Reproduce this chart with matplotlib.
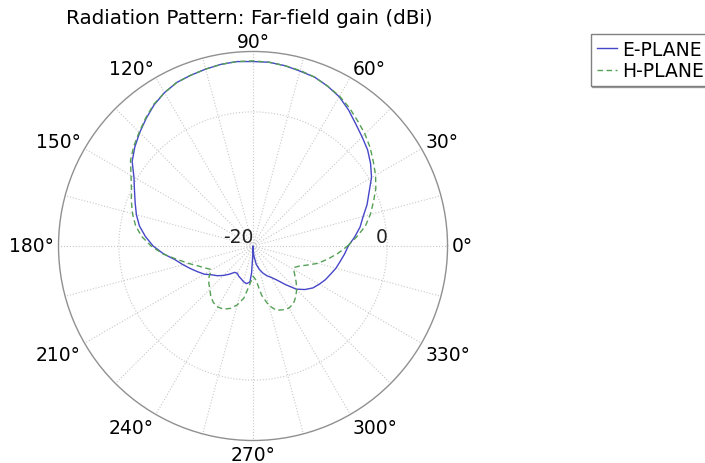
import numpy as np
import matplotlib
matplotlib.use("Agg")
import matplotlib.pyplot as plt

# ---- data (angles in degrees, gain in dBi) ----
e_angles = [0, 5, 10, 15, 20, 25, 30, 35, 40, 45, 50, 55, 60, 65, 70, 75, 80, 85, 90,
            95, 100, 105, 110, 115, 120, 125, 130, 135, 140, 145, 150, 155, 160, 165,
            170, 175, 180, 185, 190, 195, 200, 205, 210, 215, 220, 225, 230, 235, 240,
            245, 250, 255, 260, 265, 267, 269, 270, 272, 275, 280, 285, 290, 295, 300,
            305, 310, 315, 320, 325, 330, 335, 340, 345, 350, 355, 360]
e_gain = [-5.8, -4.8, -3.8, -3.0, -1.9, -0.9, 0.4, 1.4, 2.3, 3.0, 3.8, 4.8, 5.7, 6.3,
          6.8, 7.0, 7.3, 7.5, 7.5, 7.6, 7.5, 7.3, 7.1, 6.9, 6.4, 5.7, 4.8, 3.9, 3.0,
          2.0, 0.5, -0.5, -1.3, -2.0, -2.8, -3.9, -5.1, -6.6, -8.2, -9.2, -10.1, -10.9,
          -11.6, -12.5, -13.1, -13.8, -14.5, -15.2, -15.3, -15.0, -14.8, -14.5, -14.3,
          -14.6, -16.0, -19.0, -20.0, -19.5, -18.5, -17.2, -16.4, -15.7, -15.1, -14.6,
          -13.8, -12.5, -10.9, -9.9, -9.1, -8.6, -8.1, -7.7, -7.2, -6.8, -6.3, -5.8]

h_angles = [0, 5, 10, 15, 20, 25, 30, 35, 40, 45, 50, 55, 60, 65, 70, 75, 80, 85, 90,
            95, 100, 105, 110, 115, 120, 125, 130, 135, 140, 145, 150, 155, 160, 165,
            170, 175, 180, 185, 190, 195, 200, 205, 209, 212, 215, 220, 225, 230, 235,
            240, 245, 250, 255, 260, 265, 270, 275, 280, 285, 290, 295, 300, 305, 310,
            315, 320, 325, 330, 333, 337, 340, 345, 350, 355, 360]
h_gain = [-5.9, -4.5, -3.0, -1.9, -0.9, 0.2, 1.1, 1.9, 2.8, 3.6, 4.3, 5.1, 5.8, 6.3,
          6.8, 7.1, 7.3, 7.5, 7.6, 7.6, 7.5, 7.3, 7.1, 6.9, 6.4, 5.8, 4.9, 4.0, 3.2,
          2.3, 1.0, 0.0, -0.7, -1.4, -2.2, -3.3, -4.8, -6.5, -8.5, -10.0, -11.3, -12.2,
          -12.8, -12.5, -12.0, -11.4, -10.9, -10.2, -9.7, -9.5, -9.6, -10.1, -10.9,
          -12.1, -14.2, -15.5, -14.9, -12.5, -10.8, -9.8, -9.5, -9.3, -9.5, -10.1,
          -10.8, -11.6, -12.4, -13.0, -13.0, -12.4, -11.6, -10.0, -8.7, -7.3, -5.9]

r_ticks = [-20, 0]
r_min, r_max = -20, 9.0
theta_ticks = list(range(0, 360, 15))
theta_labels = [f"{a}\u00b0" if a % 30 == 0 else "" for a in theta_ticks]

fig = plt.figure(figsize=(7.05, 4.64), dpi=100)
ax = fig.add_axes([0.0830, 0.0485, 0.5518, 0.8384], projection="polar")

ax.plot(np.deg2rad(e_angles), e_gain, color="#4646c8", lw=1.0, label="E-PLANE")
ax.plot(np.deg2rad(h_angles), h_gain, color="#55a055", lw=1.0, ls=(0, (4, 2.5)),
        label="H-PLANE")

ax.set_rlim(r_min, r_max)
ax.set_rticks(r_ticks)
ax.yaxis.set_ticklabels([])
ax.set_xticks(np.deg2rad(theta_ticks))
ax.set_xticklabels(theta_labels, fontsize=13.5)
ax.tick_params(axis="x", pad=-7.4)
ax.grid(True, color="#c8c8c8", ls=":", lw=0.8)
ax.spines["polar"].set_color("#909090")
ax.spines["polar"].set_linewidth(1.0)

# edge-anchored angle labels (as in the reference)
for tick, a in zip(ax.xaxis.get_major_ticks(), theta_ticks):
    c, s = np.cos(np.deg2rad(a)), np.sin(np.deg2rad(a))
    ha = "left" if c > 0.01 else ("right" if c < -0.01 else "center")
    va = "baseline" if s > 0.01 else ("top" if s < -0.01 else "center")
    tick.label1.set_horizontalalignment(ha)
    tick.label1.set_verticalalignment(va)

for v in r_ticks:
    ax.text(0, v, f"{v}", ha="right", va="bottom", fontsize=13.5, color="#222222")

ax.set_title("Radiation Pattern: Far-field gain (dBi)", fontsize=14.3, pad=6.5, x=0.491)

leg = fig.legend(loc="upper left", bbox_to_anchor=(591 / 705, 1 - 35 / 464),
                 fontsize=13.5, frameon=True, fancybox=False,
                 shadow={"ox": 1.0, "oy": -1.0, "color": "#808080", "alpha": 0.7},
                 handlelength=1.1, handletextpad=0.25, borderpad=0.3,
                 labelspacing=0.15, borderaxespad=0)
leg.get_frame().set_edgecolor("#808080")
leg.get_frame().set_linewidth(1.0)

fig.savefig("out.png", dpi=100)
